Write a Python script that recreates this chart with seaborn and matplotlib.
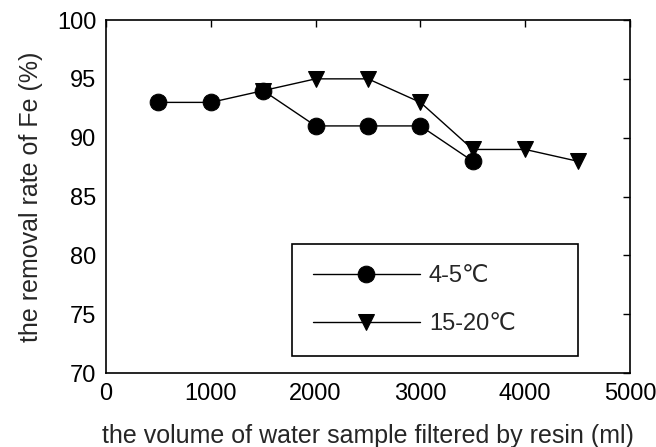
import matplotlib
matplotlib.use("Agg")
import matplotlib.pyplot as plt
import seaborn as sns
import pandas as pd

x_low = [500, 1000, 1500, 2000, 2500, 3000, 3500]
y_low = [93, 93, 94, 91, 91, 91, 88]
x_high = [1500, 2000, 2500, 3000, 3500, 4000, 4500]
y_high = [94, 95, 95, 93, 89, 89, 88]
labels = ["4-5℃", "15-20℃"]

df = pd.concat([
    pd.DataFrame({"x": x_low, "y": y_low, "series": labels[0]}),
    pd.DataFrame({"x": x_high, "y": y_high, "series": labels[1]}),
])

sns.set_style("white")
plt.rcParams['font.family'] = ['Liberation Sans', 'DejaVu Sans']

fig = plt.figure(figsize=(6.56, 4.47), dpi=100)
ax = fig.add_axes([0.1616, 0.1655, 0.7988, 0.7897])

sns.lineplot(data=df, x="x", y="y", style="series", markers=["o", "v"],
             dashes=False, color="black", linewidth=1.0, markersize=12,
             markeredgecolor="black", ax=ax, legend=True, sort=False)

ax.set_xlim(0, 5000)
ax.set_ylim(70, 100)
ax.set_xticks([0, 1000, 2000, 3000, 4000, 5000])
ax.set_yticks([70, 75, 80, 85, 90, 95, 100])
ax.tick_params(direction="in", length=5, width=1, top=True, right=True,
               labelsize=17, colors="black", pad=7)
for s in ax.spines.values():
    s.set_color("black")
    s.set_linewidth(1.2)
    s.set_visible(True)

ax.set_xlabel("the volume of water sample filtered by resin (ml)", fontsize=18, labelpad=14)
ax.set_ylabel("the removal rate of Fe (%)", fontsize=18, labelpad=10)

handles, lbls = ax.get_legend_handles_labels()
leg = ax.legend(handles, lbls, loc="lower left", bbox_to_anchor=(0.355, 0.048, 0.546, 0.329),
                mode="expand", frameon=True, fontsize=17, handlelength=4.5,
                borderaxespad=0, fancybox=False, edgecolor="black", framealpha=1,
                labelspacing=1.1, borderpad=0.9, handletextpad=0.4)
leg.get_frame().set_linewidth(1.2)

fig.savefig("out.png", dpi=100, facecolor="white")
